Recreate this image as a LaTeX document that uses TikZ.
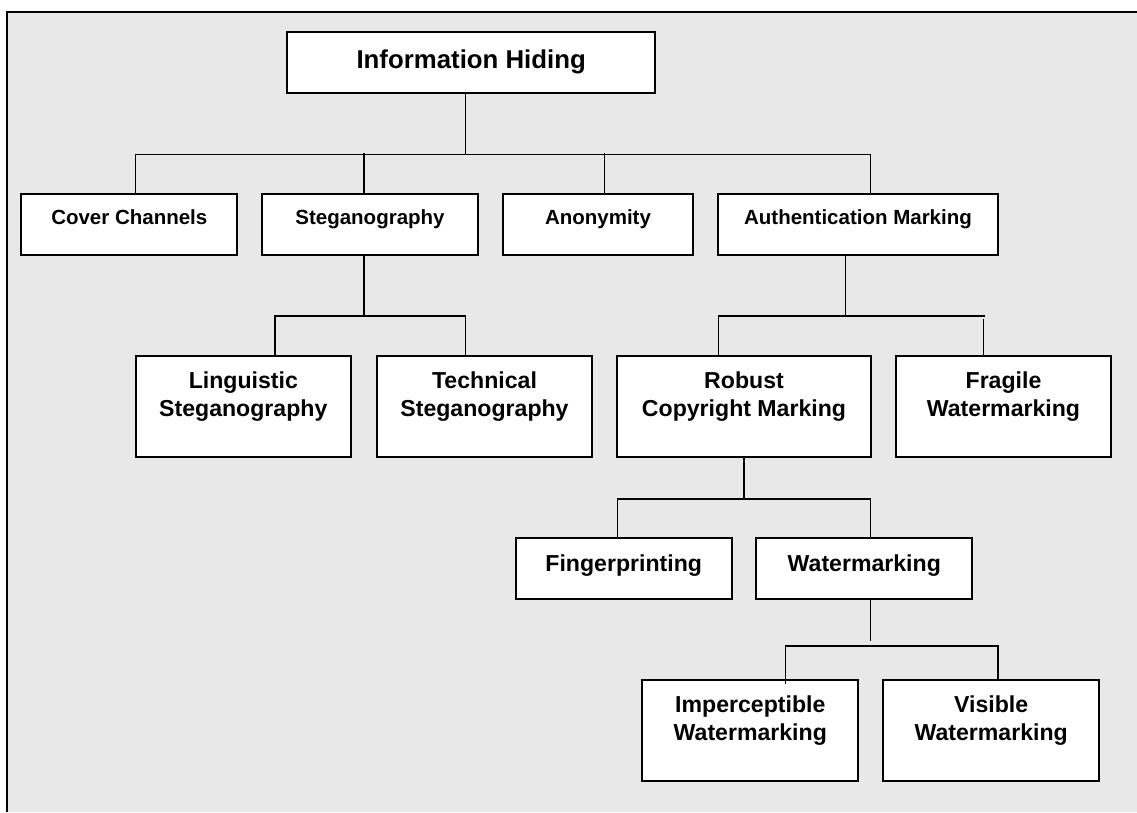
\documentclass[tikz,border=0pt]{standalone}
\usepackage{fontspec}
\setmainfont{Liberation Sans}
\definecolor{panelgray}{HTML}{E8E8E8}
\newcommand{\twolines}[2]{\begin{tabular}[t]{@{}c@{}}#1\\#2\end{tabular}}
\tikzset{
  box/.style={draw, line width=1.8pt, fill=white, anchor=north, inner sep=0pt},
  topbox/.style={box, font=\fontsize{25.8}{30}\selectfont\bfseries, text height=36.5pt, text depth=24.5pt},
  catbox/.style={box, font=\fontsize{20.5}{24}\selectfont\bfseries, text height=31.3pt, text depth=30pt},
  subbox/.style={box, font=\fontsize{23.1}{28}\selectfont\bfseries, text height=32.5pt, text depth=68.5pt},
  leafbox/.style={box, font=\fontsize{23.1}{28}\selectfont\bfseries, text height=33.7pt, text depth=26.7pt},
  link/.style={line width=1.4pt}
}
\begin{document}
\begin{tikzpicture}[x=1pt, y=-1pt]
  \useasboundingbox (0,0) rectangle (1137,812);
  \fill[panelgray] (7,12) rectangle (1137,812);
  \draw[line width=1.8pt] (7,812) -- (7,12) -- (1137,12);

  \node[topbox, minimum width=367.7pt] (info) at (471.2,31) {Information Hiding};

  \node[catbox, minimum width=216pt] (cover) at (129.3,192.7) {Cover Channels};
  \node[catbox, minimum width=215.4pt] (stego) at (370,192.7) {Steganography};
  \node[catbox, minimum width=190.6pt] (anon) at (598,192.7) {Anonymity};
  \node[catbox, minimum width=279.4pt] (auth) at (858,192.7) {Authentication Marking};

  \node[subbox, minimum width=215.3pt] (ling) at (243.3,355) {\twolines{Linguistic}{Steganography}};
  \node[subbox, minimum width=215.6pt] (tech) at (484.5,355) {\twolines{Technical}{Steganography}};
  \node[subbox, minimum width=253.4pt] (robust) at (744,355) {\twolines{Robust}{Copyright Marking}};
  \node[subbox, minimum width=215.6pt] (fragile) at (1003.5,355) {\twolines{Fragile}{Watermarking}};

  \node[leafbox, minimum width=216pt] (finger) at (623.7,537.3) {Fingerprinting};
  \node[leafbox, minimum width=216pt] (water) at (864.3,537.3) {Watermarking};

  \node[subbox, minimum width=216pt] (imper) at (750.3,679) {\twolines{Imperceptible}{Watermarking}};
  \node[subbox, minimum width=215.7pt] (visible) at (991.2,679) {\twolines{Visible}{Watermarking}};

  % first level
  \draw[link] ([xshift=-5.5]info.south) -- ++(0,60.7) coordinate (bus1);
  \draw[link] ([xshift=6.4]cover.north) |- (bus1) -| ([xshift=12.7]auth.north);
  \draw[link] ([xshift=-6]stego.north) -- ++(0,-40);
  \draw[link] ([xshift=6.3]anon.north) -- ++(0,-40);

  % steganography
  \draw[link] ([xshift=-6]stego.south) -- ++(0,60.3) coordinate (bus2);
  \draw[link] ([xshift=31.7]ling.north) |- (bus2) -| ([xshift=-18.8]tech.north);

  % authentication marking
  \draw[link] ([xshift=-12.7]auth.south) -- ++(0,60.3) coordinate (bus3);
  \draw[link] ([xshift=-25.7]robust.north) |- (bus3) -- ++(139.7,0);
  \draw[link] ([xshift=-19.8,yshift=-2.3]fragile.north) -- ++(0,-38.3);

  % robust copyright marking
  \draw[link] (robust.south) -- ++(0,41) coordinate (bus4);
  \draw[link] ([xshift=-6.4]finger.north) |- (bus4) -| ([xshift=6.4]water.north);

  % watermarking
  \draw[link] ([xshift=6.4]water.south) -- ++(0,41.6);
  \draw[link] ([xshift=35.4,yshift=-5.3]imper.north) -- ++(0,-38.3) -| ([xshift=6.8]visible.north);
\end{tikzpicture}
\end{document}
